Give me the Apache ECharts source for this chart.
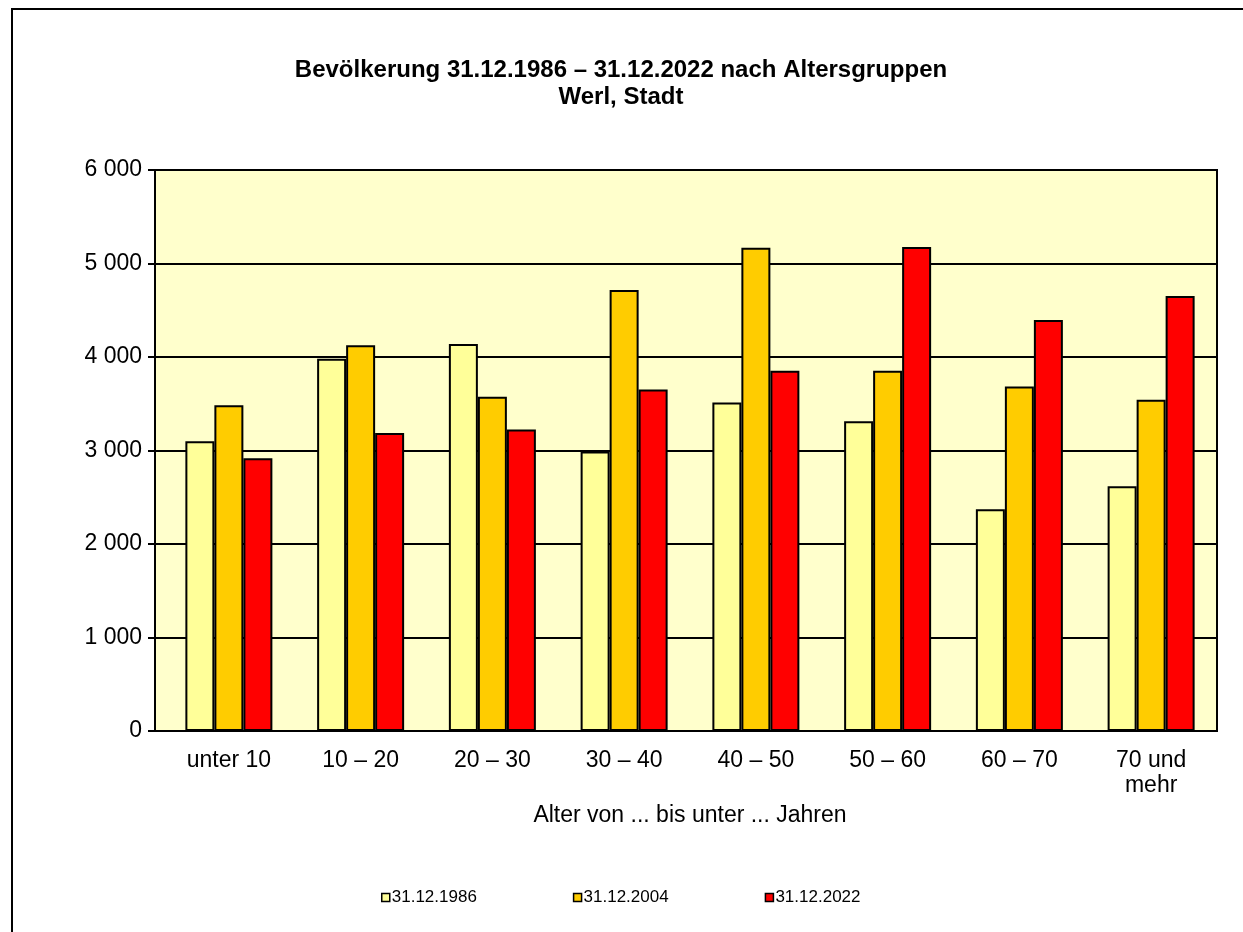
<!DOCTYPE html>
<html><head><meta charset="utf-8">
<script src="https://cdn.jsdelivr.net/npm/echarts@6/dist/echarts.min.js"></script>
<style>html,body{margin:0;padding:0;background:#fff}#c{width:1243px;height:932px}</style>
</head><body><div id="c"></div>
<script>
const categories = ['unter 10','10 – 20','20 – 30','30 – 40','40 – 50','50 – 60','60 – 70','70 und\nmehr'];
const seriesNames = ['31.12.1986','31.12.2004','31.12.2022'];
const v1986 = [3100, 3981, 4138, 2989, 3513, 3314, 2372, 2618];
const v2004 = [3485, 4127, 3574, 4716, 5169, 3852, 3684, 3542];
const v2022 = [2918, 3186, 3224, 3652, 3852, 5176, 4395, 4652];
const yTicks = [0, 1000, 2000, 3000, 4000, 5000, 6000];
const colors = ['#FFFF99','#FFCC00','#FF0000'];
const FONT = '"Liberation Sans", Arial, sans-serif';

const chart = echarts.init(document.getElementById('c'), null, {renderer:'canvas'});
const fmt = v => String(v).replace(/\B(?=(\d{3})+(?!\d))/g, ' ');
const yMin = yTicks[0], yMax = yTicks[yTicks.length-1], yStep = yTicks[1]-yTicks[0];
const mk = (name, data, i) => ({
  name, type:'bar', data, barWidth:29, barGap:'0%', xAxisIndex:1, yAxisIndex:1,
  itemStyle:{color:colors[i], borderColor:'#000', borderWidth:2}
});
chart.setOption({
  animation:false,
  textStyle:{fontFamily:FONT},
  graphic:[{type:'rect', shape:{x:12,y:9,width:1240,height:940}, style:{fill:'none', stroke:'#000', lineWidth:2}, z:-10}],
  title:{
    text:'Bevölkerung 31.12.1986 – 31.12.2022 nach Altersgruppen\nWerl, Stadt',
    left:616, top:52, textAlign:'center',
    textStyle:{fontFamily:FONT, fontSize:24, fontWeight:'bold', color:'#000', lineHeight:27, align:'center'}
  },
  legend:{
    data:seriesNames, left:376, top:884, itemWidth:8, itemHeight:8, itemGap:96,
    icon:'rect',
    textStyle:{fontFamily:FONT, fontSize:17, color:'#000', padding:[0,0,0,-3]},
    itemStyle:{borderColor:'#000', borderWidth:1.5}
  },
  grid:[
    {left:155, right:26, top:170, bottom:201, show:true, backgroundColor:'#FFFFCC', borderColor:'#000', borderWidth:2},
    {left:163, right:26, top:170, bottom:201}
  ],
  xAxis:[
    {type:'category', gridIndex:0, data:categories, show:false},
    {
      type:'category', gridIndex:1, data:categories,
      name:'Alter von ... bis unter ... Jahren', nameLocation:'middle', nameGap:73,
      nameTextStyle:{fontFamily:FONT, fontSize:23, color:'#000'},
      axisLine:{show:false},
      axisTick:{show:false},
      axisLabel:{fontFamily:FONT, fontSize:23, color:'#000', margin:17, lineHeight:25}
    }
  ],
  yAxis:[
    {
      type:'value', gridIndex:0, min:yMin, max:yMax, interval:yStep,
      axisLine:{show:true, lineStyle:{color:'#000', width:2}},
      axisTick:{show:true, length:7, lineStyle:{color:'#000', width:2}},
      axisLabel:{fontFamily:FONT, fontSize:23, color:'#000', margin:13, formatter:fmt},
      splitLine:{lineStyle:{color:'#000', width:2}}
    },
    {type:'value', gridIndex:1, min:yMin, max:yMax, interval:yStep, show:false, splitLine:{show:false}}
  ],
  series:[mk(seriesNames[0], v1986, 0), mk(seriesNames[1], v2004, 1), mk(seriesNames[2], v2022, 2)]
});
</script></body></html>
